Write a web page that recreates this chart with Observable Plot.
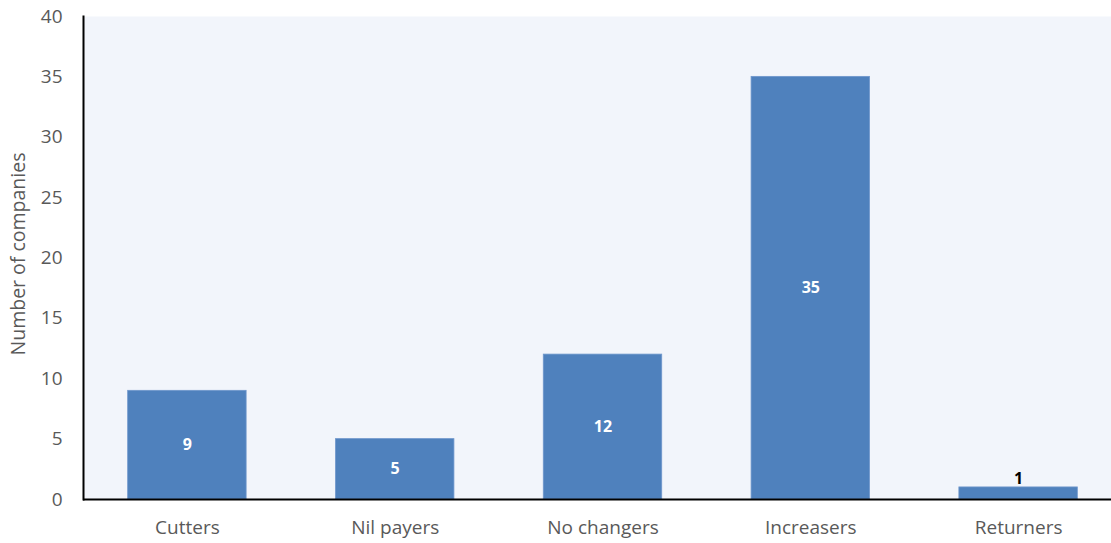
<!DOCTYPE html>
<html>
<head>
<meta charset="utf-8">
<script src="https://cdn.jsdelivr.net/npm/d3@7"></script>
<script src="https://cdn.jsdelivr.net/npm/@observablehq/plot@0.6"></script>
<style>
  html, body { margin: 0; padding: 0; background: #ffffff; overflow: hidden; }
  #chart svg { overflow: hidden; display: block; }
</style>
</head>
<body>
<div id="chart"></div>
<script>
const categories = ["Cutters", "Nil payers", "No changers", "Increasers", "Returners"];
const values = [9, 5, 12, 35, 1];
const yTicks = [0, 5, 10, 15, 20, 25, 30, 35, 40];

const data = categories.map((c, i) => ({category: c, value: values[i]}));
const inside = data.filter(d => d.value >= 2);
const outside = data.filter(d => d.value < 2);

const font = "'Open Sans', 'Noto Sans', sans-serif";

const chart = Plot.plot({
  width: 1111,
  height: 543,
  marginTop: 16,
  marginBottom: 44,
  marginLeft: 83,
  marginRight: -11,
  style: {fontFamily: font, background: "#ffffff", overflow: "hidden"},
  x: {domain: categories, paddingInner: 0.43, paddingOuter: 0.215, round: false, label: null},
  y: {domain: [0, 40], ticks: yTicks, label: null},
  marks: [
    Plot.frame({fill: "#f2f5fb", stroke: null}),
    Plot.barY(data, {x: "category", y: "value", fill: "#4f81bd", stroke: "#6f97cc", strokeWidth: 0.8}),
    Plot.text(inside, {x: "category", y: d => d.value / 2, text: d => String(d.value),
      fill: "white", fontWeight: "bold", fontSize: 16}),
    Plot.text(outside, {x: "category", y: "value", text: d => String(d.value),
      fill: "black", fontWeight: "bold", fontSize: 16, dy: -9}),
    Plot.ruleY([0], {stroke: "black", strokeWidth: 2}),
    Plot.frame({anchor: "left", stroke: "black", strokeWidth: 2}),
    Plot.axisY({ticks: yTicks, tickSize: 0, tickPadding: 21, fontSize: 19, color: "#595959", label: null}),
    Plot.text(["Number of companies"], {frameAnchor: "left", textAnchor: "middle", rotate: -90,
      dx: -65, dy: -4, fontSize: 19.5, fill: "#595959"}),
    Plot.axisX({tickSize: 0, tickPadding: 21, fontSize: 19, color: "#595959", label: null})
  ]
});

document.getElementById("chart").appendChild(chart);
</script>
</body>
</html>
